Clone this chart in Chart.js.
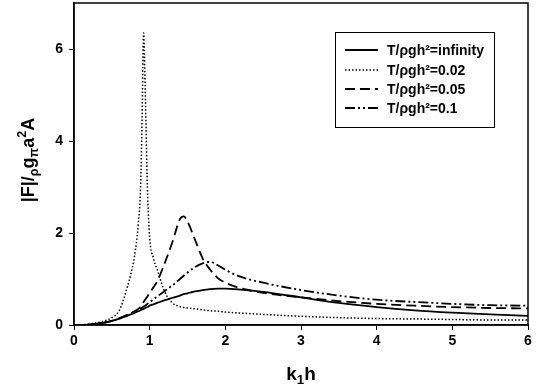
<!DOCTYPE html>
<html>
<head>
<meta charset="utf-8">
<script src="https://cdn.jsdelivr.net/npm/chart.js@4"></script>
<style>
  html, body { margin: 0; padding: 0; background: #fff; }
  #wrap { width: 546px; height: 389px; }
</style>
</head>
<body>
<div id="wrap"><canvas id="chart" width="546" height="389"></canvas></div>
<script>
// k1h sample points (shared by all curves)
const kh = [0, 0.2, 0.4, 0.5, 0.6, 0.7, 0.75, 0.8, 0.85, 0.88, 0.9, 0.92, 0.94, 0.97, 1.0,
  1.05, 1.1, 1.2, 1.3, 1.4, 1.45, 1.5, 1.6, 1.7, 1.8, 1.9, 2.0, 2.2, 2.5, 3, 3.5, 4, 4.5, 5, 5.5, 6];

const fInfinity = [0, 0.01, 0.05, 0.09, 0.14, 0.2, 0.23, 0.26, 0.3, 0.32, 0.34, 0.35, 0.37, 0.39, 0.42,
  0.45, 0.48, 0.54, 0.59, 0.64, 0.67, 0.69, 0.73, 0.76, 0.78, 0.79, 0.79, 0.77, 0.72, 0.6, 0.48, 0.39, 0.32, 0.27, 0.23, 0.2];
const f002 = [0, 0.02, 0.09, 0.16, 0.32, 0.8, 1.1, 1.5, 2.2, 3.0, 4.5, 6.35, 5.2, 3.0, 1.9,
  1.45, 1.2, 0.72, 0.48, 0.4, 0.38, 0.37, 0.35, 0.33, 0.31, 0.3, 0.28, 0.26, 0.23, 0.19, 0.16, 0.14, 0.13, 0.12, 0.11, 0.11];
const f005 = [0, 0.01, 0.05, 0.09, 0.15, 0.22, 0.26, 0.3, 0.35, 0.4, 0.45, 0.5, 0.55, 0.62, 0.7,
  0.82, 0.95, 1.35, 1.8, 2.3, 2.36, 2.25, 1.85, 1.45, 1.2, 1.02, 0.92, 0.8, 0.7, 0.6, 0.52, 0.46, 0.42, 0.39, 0.37, 0.36];
const f01 = [0, 0.01, 0.05, 0.09, 0.14, 0.21, 0.25, 0.29, 0.33, 0.36, 0.38, 0.4, 0.42, 0.46, 0.5,
  0.56, 0.62, 0.74, 0.86, 1.0, 1.07, 1.14, 1.26, 1.34, 1.37, 1.3, 1.2, 1.05, 0.92, 0.76, 0.64, 0.55, 0.5, 0.46, 0.43, 0.42];

const seriesLabels = ['T/\u03C1gh\u00B2=infinity', 'T/\u03C1gh\u00B2=0.02', 'T/\u03C1gh\u00B2=0.05', 'T/\u03C1gh\u00B2=0.1'];
const xTicks = [0, 1, 2, 3, 4, 5, 6];
const yTicks = [0, 2, 4, 6];

const FONT = '"Liberation Sans", Arial, sans-serif';

function pts(ys) {
  return kh.map((x, i) => ({ x: x, y: ys[i] }));
}

const styles = [
  { borderWidth: 1.8, borderDash: [] },
  { borderWidth: 1.5, borderDash: [1.5, 2] },
  { borderWidth: 1.8, borderDash: [10, 5] },
  { borderWidth: 1.8, borderDash: [10, 3, 2, 3, 2, 3] },
];

const datasets = [fInfinity, f002, f005, f01].map((ys, i) => ({
  label: seriesLabels[i],
  data: pts(ys),
  borderColor: '#000',
  borderWidth: styles[i].borderWidth,
  borderDash: styles[i].borderDash,
  pointRadius: 0,
  fill: false,
  cubicInterpolationMode: 'monotone',
}));

// box legend in the upper right
const boxLegend = {
  id: 'boxLegend',
  afterDraw(chart) {
    const ctx = chart.ctx;
    ctx.save();
    ctx.strokeStyle = '#000';
    ctx.lineWidth = 1;
    ctx.setLineDash([]);
    ctx.strokeRect(335.5, 32.5, 159, 95);
    const rows = [50, 70, 89, 108];
    ctx.font = 'bold 14px ' + FONT;
    ctx.fillStyle = '#000';
    ctx.textBaseline = 'middle';
    chart.data.datasets.forEach((ds, i) => {
      ctx.lineWidth = ds.borderWidth;
      ctx.setLineDash(ds.borderDash);
      ctx.beginPath();
      ctx.moveTo(345, rows[i]);
      ctx.lineTo(378, rows[i]);
      ctx.stroke();
      ctx.setLineDash([]);
      ctx.fillText(ds.label, 387, rows[i] + 1);
    });
    ctx.restore();
  }
};

// axis titles with sub/superscripts
function drawRich(ctx, parts, size) {
  let total = 0;
  parts.forEach(p => {
    ctx.font = 'bold ' + (p.s ? size * 0.7 : size) + 'px ' + FONT;
    total += ctx.measureText(p.t).width;
  });
  let x = -total / 2;
  parts.forEach(p => {
    const fs = p.s ? size * 0.7 : size;
    ctx.font = 'bold ' + fs + 'px ' + FONT;
    const dy = p.s === 'sub' ? size * 0.22 : p.s === 'sup' ? -size * 0.45 : 0;
    ctx.fillText(p.t, x, dy);
    x += ctx.measureText(p.t).width;
  });
}

const axisTitles = {
  id: 'axisTitles',
  afterDraw(chart) {
    const ctx = chart.ctx;
    ctx.save();
    ctx.fillStyle = '#000';
    ctx.textBaseline = 'alphabetic';
    ctx.textAlign = 'left';
    ctx.translate(301, 380);
    drawRich(ctx, [{ t: 'k' }, { t: '1', s: 'sub' }, { t: 'h' }], 19);
    ctx.restore();

    ctx.save();
    ctx.fillStyle = '#000';
    ctx.textBaseline = 'alphabetic';
    ctx.textAlign = 'left';
    ctx.translate(34, 160);
    ctx.rotate(-Math.PI / 2);
    drawRich(ctx, [{ t: '|F|/' }, { t: '\u03C1', s: 'sub' }, { t: 'g' }, { t: '\u03C0', s: 'sub' },
      { t: 'a' }, { t: '2', s: 'sup' }, { t: 'A' }], 18);
    ctx.restore();
  }
};

const frame = {
  id: 'frame',
  afterDatasetsDraw(chart) {
    const a = chart.chartArea;
    const ctx = chart.ctx;
    ctx.save();
    ctx.strokeStyle = '#000';
    ctx.lineWidth = 1.5;
    ctx.setLineDash([]);
    ctx.strokeRect(a.left, a.top, a.right - a.left, a.bottom - a.top);
    ctx.restore();
  }
};

new Chart(document.getElementById('chart'), {
  type: 'line',
  data: { datasets: datasets },
  options: {
    responsive: false,
    animation: false,
    layout: { padding: { top: 3, right: 18, left: 0, bottom: 0 } },
    plugins: { legend: { display: false }, tooltip: { enabled: false } },
    scales: {
      x: {
        type: 'linear',
        min: 0, max: 6,
        afterBuildTicks: s => { s.ticks = xTicks.map(v => ({ value: v })); },
        afterFit: s => { s.height = 64; s.paddingLeft = 0; s.paddingRight = 0; },
        grid: { drawOnChartArea: false, tickLength: 5, color: '#000', lineWidth: 1 },
        border: { color: '#000', width: 1.5 },
        ticks: { color: '#000', font: { family: FONT, size: 14, weight: 'bold' }, padding: 3, maxRotation: 0 },
      },
      y: {
        type: 'linear',
        min: 0, max: 7,
        afterBuildTicks: s => { s.ticks = yTicks.map(v => ({ value: v })); },
        afterFit: s => { s.width = 74; s.paddingTop = 0; s.paddingBottom = 0; },
        grid: { drawOnChartArea: false, tickLength: 5, color: '#000', lineWidth: 1 },
        border: { color: '#000', width: 1.5 },
        ticks: { color: '#000', font: { family: FONT, size: 14, weight: 'bold' }, padding: 6 },
      },
    },
  },
  plugins: [frame, boxLegend, axisTitles],
});
</script>
</body>
</html>
